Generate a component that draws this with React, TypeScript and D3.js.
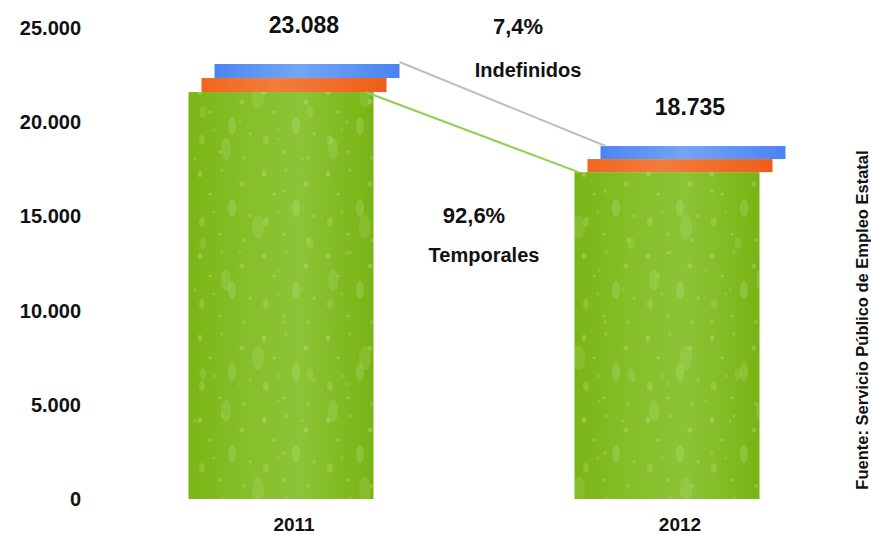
import { useEffect, useRef } from "react";
import * as d3 from "d3";

const years = ["2011", "2012"];
const totals = [23088, 18735];
const temporales = [21600, 17350];
const yTicks = [0, 5000, 10000, 15000, 20000, 25000];
const shareLabels = ["7,4%", "92,6%"];
const typeLabels = ["Indefinidos", "Temporales"];
const source = "Fuente: Servicio Público de Empleo Estatal";

const W = 871;
const H = 535;
const FONT = "'Liberation Sans', Arial, sans-serif";

const fmt = (v: number) => d3.format(",")(v).replace(/,/g, ".");

// water-drop texture tiles: [cx, cy, rx, ry, opacity]
const dropsA: [number, number, number, number, number][] = [
  [8, 10, 2.2, 3, 0.3],
  [30, 6, 1.5, 1.5, 0.25],
  [50, 20, 2.5, 2.5, 0.25],
  [18, 30, 1.6, 1.6, 0.3],
  [40, 44, 4, 9, 0.2],
  [58, 52, 1.8, 1.8, 0.25],
  [10, 58, 3, 5, 0.2],
  [28, 70, 1.5, 1.5, 0.3],
  [52, 76, 2, 2, 0.22],
  [22, 48, 1.2, 1.2, 0.25],
];
const dropsB: [number, number, number, number, number][] = [
  [12, 18, 5, 11, 0.16],
  [70, 60, 2, 2, 0.2],
  [44, 96, 6, 12, 0.14],
  [88, 28, 1.4, 1.4, 0.22],
  [96, 112, 3.5, 6, 0.16],
  [26, 122, 1.6, 1.6, 0.2],
  [64, 8, 1.2, 1.2, 0.22],
];

export default function App() {
  const ref = useRef<SVGSVGElement | null>(null);

  useEffect(() => {
    if (!ref.current) return;
    const svg = d3.select(ref.current);
    svg.selectAll("*").remove();

    const x = d3.scalePoint<string>().domain(years).range([101, 873]).padding(0.5);
    const y = d3.scaleLinear().domain([0, 25000]).range([499, 28]);

    const barW = 185;
    const dx = 13;
    const half = (barW + 2 * dx) / 2;

    const defs = svg.append("defs");
    const hg = (id: string, stops: [number, string][]) => {
      const g = defs.append("linearGradient").attr("id", id).attr("x1", 0).attr("x2", 1).attr("y1", 0).attr("y2", 0);
      stops.forEach(([o, c]) => g.append("stop").attr("offset", o).attr("stop-color", c));
    };
    hg("gGreen", [[0, "#7ab616"], [0.35, "#86c02c"], [0.6, "#8bc436"], [1, "#78b414"]]);
    hg("gOrange", [[0, "#f0661e"], [0.4, "#f27d3c"], [1, "#ef5e18"]]);
    hg("gBlue", [[0, "#4b86f0"], [0.45, "#73a5f6"], [1, "#4a84f2"]]);

    const pattern = (id: string, w: number, h: number, drops: typeof dropsA) => {
      const p = defs.append("pattern").attr("id", id).attr("patternUnits", "userSpaceOnUse").attr("width", w).attr("height", h);
      drops.forEach(([cx, cy, rx, ry, o]) =>
        p.append("ellipse").attr("cx", cx).attr("cy", cy).attr("rx", rx).attr("ry", ry).attr("fill", "#d6efa4").attr("opacity", o)
      );
    };
    pattern("dropsA", 64, 82, dropsA);
    pattern("dropsB", 107, 131, dropsB);

    // y tick labels
    svg
      .append("g")
      .selectAll("text")
      .data(yTicks)
      .join("text")
      .attr("x", 81)
      .attr("y", (d) => y(d))
      .attr("dy", "0.35em")
      .attr("text-anchor", "end")
      .attr("font-family", FONT)
      .attr("font-weight", "bold")
      .attr("font-size", 20)
      .attr("fill", "#111")
      .text((d) => fmt(d));

    const bars = svg.append("g").selectAll("g").data(years).join("g");

    // temporales (green, textured)
    ["url(#gGreen)", "url(#dropsA)", "url(#dropsB)"].forEach((fill) =>
      bars
        .append("rect")
        .attr("x", (d) => x(d)! - half)
        .attr("y", (_, i) => y(temporales[i]))
        .attr("width", barW)
        .attr("height", (_, i) => y(0) - y(temporales[i]))
        .attr("fill", fill)
    );

    // indefinidos, drawn as two offset slabs
    const mid = (i: number) => (temporales[i] + totals[i]) / 2;
    bars
      .append("rect")
      .attr("x", (d) => x(d)! - half + dx)
      .attr("y", (_, i) => y(mid(i)))
      .attr("width", barW)
      .attr("height", (_, i) => y(temporales[i]) - y(mid(i)))
      .attr("fill", "url(#gOrange)");
    bars
      .append("rect")
      .attr("x", (d) => x(d)! - half + 2 * dx)
      .attr("y", (_, i) => y(totals[i]))
      .attr("width", barW)
      .attr("height", (_, i) => y(mid(i)) - y(totals[i]))
      .attr("fill", "url(#gBlue)");

    // connector lines
    const x0 = x(years[0])!;
    const x1 = x(years[1])!;
    svg
      .append("line")
      .attr("x1", x0 - half + 2 * dx + barW)
      .attr("y1", y(totals[0]) - 2)
      .attr("x2", x1 - half + 2 * dx + 5)
      .attr("y2", y(totals[1]))
      .attr("stroke", "#bfbfbf")
      .attr("stroke-width", 2);
    svg
      .append("line")
      .attr("x1", x0 - half + barW - 8)
      .attr("y1", y(temporales[0]))
      .attr("x2", x1 - half + 4)
      .attr("y2", y(temporales[1]))
      .attr("stroke", "#8fd14f")
      .attr("stroke-width", 2);

    const txt = (tx: number, ty: number, s: string, size: number) =>
      svg
        .append("text")
        .attr("x", tx)
        .attr("y", ty)
        .attr("text-anchor", "middle")
        .attr("font-family", FONT)
        .attr("font-weight", "bold")
        .attr("font-size", size)
        .attr("fill", "#111")
        .text(s);

    // totals above bars
    years.forEach((yr, i) => txt(x(yr)! + 10, y(totals[i]) - 31, fmt(totals[i]), 23));

    // share annotations
    txt(518, 34, shareLabels[0], 22);
    txt(528, 77, typeLabels[0], 20);
    txt(474, 223, shareLabels[1], 22);
    txt(484, 262, typeLabels[1], 20);

    // category labels
    svg
      .append("g")
      .selectAll("text")
      .data(years)
      .join("text")
      .attr("x", (d) => x(d)!)
      .attr("y", 531)
      .attr("text-anchor", "middle")
      .attr("font-family", FONT)
      .attr("font-weight", "bold")
      .attr("font-size", 19)
      .attr("fill", "#111")
      .text((d) => d);

    svg
      .append("text")
      .attr("transform", "translate(868,320) rotate(-90)")
      .attr("text-anchor", "middle")
      .attr("font-family", FONT)
      .attr("font-weight", "bold")
      .attr("font-size", 16.5)
      .attr("fill", "#111")
      .text(source);
  }, []);

  return (
    <svg
      ref={ref}
      width={W}
      height={H}
      viewBox={`0 0 ${W} ${H}`}
      style={{ position: "absolute", left: 0, top: 0, background: "#fff" }}
      role="img"
      aria-label="Contratos temporales e indefinidos 2011-2012"
    />
  );
}
